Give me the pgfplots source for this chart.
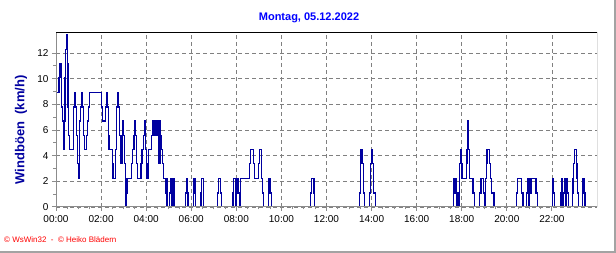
\documentclass[border=0pt]{standalone}
\usepackage{fontspec}
\setmainfont{Liberation Sans}
\usepackage{pgfplots}
\pgfplotsset{compat=1.18}
\definecolor{navy}{RGB}{0,0,160}
\definecolor{tblue}{RGB}{0,0,255}
\definecolor{gridgray}{RGB}{128,128,128}
\definecolor{axgray}{RGB}{140,140,140}
\begin{document}
\begin{tikzpicture}
\path[use as bounding box] (0pt,0pt) rectangle (616pt,253pt);
\fill[white] (0pt,0pt) rectangle (616pt,253pt);
\draw[axgray!80, line width=2pt] (615pt,253pt) -- (615pt,1pt) -- (0pt,1pt);
\begin{axis}[
  at={(56pt,46pt)}, anchor=south west,
  scale only axis, width=541pt, height=174pt,
  xmin=0, xmax=24, ymin=0, ymax=13.56,
  xtick={0,2,...,22},
  xticklabels={00:00,02:00,04:00,06:00,08:00,10:00,12:00,14:00,16:00,18:00,20:00,22:00},
  minor x tick num=3,
  ytick={0,2,...,12},
  minor y tick num=1,
  tick align=outside,
  major tick length=4pt, minor tick length=2.5pt,
  every tick/.style={axgray, line width=1pt},
  xtick pos=bottom, ytick pos=left,
  grid=major,
  major grid style={gridgray, dashed, line width=0.8pt, dash pattern=on 4pt off 3pt},
  axis line style={draw=none},
  /pgf/number format/assume math mode=true,
  tick label style={font=\fontsize{10}{12}\selectfont, black},
  xticklabel style={yshift=-1pt},
  clip=true,
]
\addplot[navy, line width=1.25pt, const plot mark left] coordinates {
(0.00,8.9)(0.13,10.1)(0.18,11.2)(0.24,7.8)(0.28,6.7)(0.32,5.6)(0.35,4.5)(0.38,6.7)
(0.40,10.1)(0.43,12.3)(0.47,13.4)(0.50,11.2)(0.53,7.8)(0.56,5.6)(0.59,4.5)(0.77,6.7)
(0.79,7.8)(0.82,8.9)(0.87,7.8)(0.91,5.6)(0.94,3.4)(0.99,2.2)(1.03,4.5)(1.05,6.7)
(1.09,7.8)(1.15,8.9)(1.19,7.8)(1.22,5.6)(1.27,4.5)(1.35,5.6)(1.40,6.7)(1.44,7.8)
(1.49,8.9)(2.02,7.8)(2.06,6.7)(2.18,7.8)(2.24,8.9)(2.30,7.8)(2.33,5.6)(2.35,4.5)
(2.49,3.4)(2.53,2.2)(2.65,4.5)(2.68,7.8)(2.72,8.9)(2.77,7.8)(2.81,5.6)(2.85,3.4)
(2.93,5.6)(2.96,6.7)(3.00,5.6)(3.05,3.4)(3.09,0)(3.12,2.2)(3.13,1.1)(3.16,2.2)
(3.36,3.4)(3.41,4.5)(3.46,5.6)(3.49,6.7)(3.52,5.6)(3.58,3.4)(3.62,2.2)(3.77,3.4)
(3.81,4.5)(3.87,5.6)(3.93,6.7)(3.97,4.5)(4.00,3.4)(4.03,2.2)(4.08,3.4)(4.12,4.5)
(4.25,5.6)(4.30,6.7)(4.35,5.6)(4.41,6.7)(4.47,5.6)(4.53,6.7)
(4.57,3.4)(4.62,6.7)(4.65,5.6)(4.69,4.5)(4.74,3.4)(4.78,2.2)(4.88,1.1)(4.90,0)
(4.92,2.2)(4.96,0)(5.05,1.1)(5.08,2.2)(5.12,0)(5.19,2.2)(5.23,0)
(5.74,1.1)(5.78,2.2)(5.83,1.1)(5.86,0)
(6.10,1.1)(6.12,2.2)(6.17,1.1)(6.19,0)
(6.43,1.1)(6.46,2.2)(6.53,1.1)(6.56,0)
(7.16,1.1)(7.20,2.2)(7.30,1.1)(7.33,0)
(7.85,1.1)(7.88,2.2)(7.95,0)(7.98,1.1)(8.02,2.2)(8.05,1.1)(8.08,2.2)(8.10,1.1)(8.13,0)
(8.16,1.1)(8.19,2.2)(8.57,3.4)(8.62,4.5)(8.76,3.4)(8.80,2.2)(8.98,3.4)(9.02,4.5)
(9.10,3.4)(9.13,2.2)(9.16,1.1)(9.20,0)
(9.42,1.1)(9.45,2.2)(9.53,1.1)(9.57,0)
(11.30,1.1)(11.35,2.2)(11.44,1.1)(11.48,0)
(13.45,1.1)(13.50,3.4)(13.53,4.5)(13.60,3.4)(13.64,1.1)(13.67,0)
(13.90,1.1)(13.95,3.4)(14.00,4.5)(14.05,3.4)(14.10,1.1)(14.16,0)
(17.62,1.1)(17.66,2.2)(17.74,1.1)(17.79,0)(17.88,1.1)(17.91,3.4)(17.94,4.5)(17.98,3.4)
(18.01,2.2)(18.20,3.4)(18.23,4.5)(18.26,6.7)(18.31,4.5)(18.34,2.2)(18.50,1.1)(18.57,0)
(18.80,1.1)(18.85,2.2)(18.97,1.1)(19.03,0)(19.06,2.2)(19.09,3.4)(19.12,4.5)(19.24,3.4)
(19.28,2.2)(19.33,1.1)(19.43,0)
(20.44,1.1)(20.47,2.2)(20.66,1.1)(20.72,0)
(20.87,1.1)(20.91,2.2)(20.95,1.1)(20.98,0)(21.00,1.1)(21.02,2.2)(21.06,1.1)(21.09,2.2)
(21.29,1.1)(21.36,0)
(22.03,2.2)(22.07,1.1)(22.12,0)
(22.40,1.1)(22.43,2.2)(22.46,1.1)(22.49,0)(22.52,1.1)(22.55,2.2)(22.58,1.1)(22.61,0)
(22.64,1.1)(22.67,2.2)(22.70,1.1)(22.73,0)
(22.90,1.1)(22.93,2.2)(22.96,3.4)(22.99,4.5)(23.08,3.4)(23.11,2.2)(23.14,1.1)(23.18,0)
(23.34,1.1)(23.37,2.2)(23.42,1.1)(23.47,0)(24.00,0)
};
\draw[black, line width=1pt] (rel axis cs:0,1) -- (rel axis cs:1,1) -- (rel axis cs:1,0);
\draw[axgray, line width=2pt] (rel axis cs:0,1) -- (rel axis cs:0,0) -- (rel axis cs:1,0);
\end{axis}
\node[tblue, font=\fontsize{11}{13}\selectfont\bfseries] at (309pt,235pt) {Montag, 05.12.2022};
\node[navy, rotate=90, font=\fontsize{13}{15}\selectfont\bfseries] at (21pt,123pt) {Windböen\ \ (km/h)};
\node[red, anchor=west, font=\fontsize{8}{9}\selectfont, inner sep=0pt] at (4pt,13pt) {© WsWin32 \ - \ © Heiko Blädern};
\end{tikzpicture}
\end{document}
